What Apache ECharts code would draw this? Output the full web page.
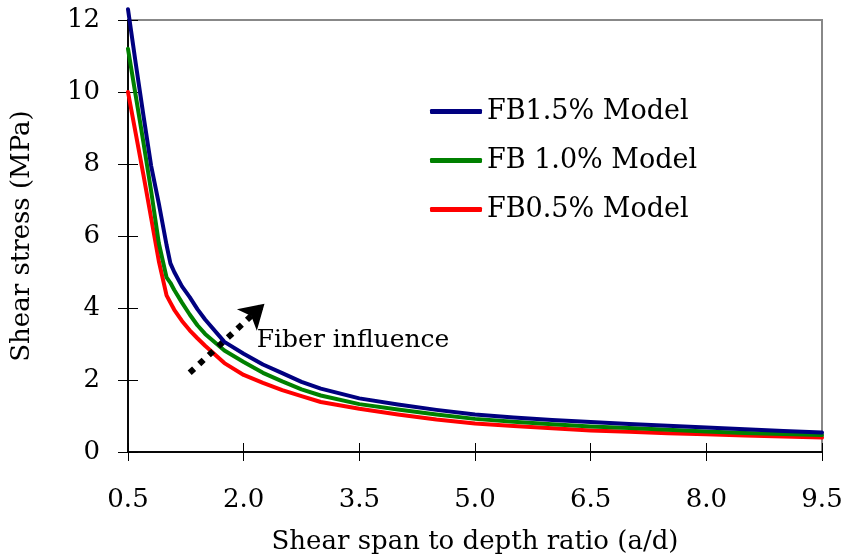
<!DOCTYPE html>
<html><head><meta charset="utf-8">
<script src="https://cdn.jsdelivr.net/npm/echarts@6/dist/echarts.min.js"></script>
<style>html,body{margin:0;padding:0;background:#fff}#c{width:841px;height:557px}</style>
</head><body><div id="c"></div>
<script>
const ratio = [0.5,0.6,0.7,0.8,0.9,1.0,1.05,1.1,1.2,1.3,1.4,1.5,1.75,2.0,2.25,2.5,2.75,3.0,3.5,4.0,4.5,5.0,5.5,6.0,6.5,7.0,7.5,8.0,8.5,9.0,9.5];
const fb15 = [12.3,10.8,9.35,7.95,6.9,5.75,5.24,5.0,4.6,4.3,3.97,3.68,3.06,2.73,2.43,2.19,1.95,1.76,1.49,1.32,1.17,1.04,0.96,0.89,0.83,0.78,0.73,0.68,0.63,0.58,0.54];
const fb10 = [11.2,9.9,8.6,7.25,5.8,4.85,4.7,4.5,4.15,3.82,3.52,3.28,2.82,2.5,2.2,1.96,1.74,1.57,1.33,1.18,1.04,0.92,0.84,0.77,0.71,0.67,0.62,0.57,0.53,0.50,0.47];
const fb05 = [10.0,8.85,7.7,6.5,5.3,4.35,4.15,3.95,3.64,3.38,3.16,2.95,2.47,2.14,1.92,1.72,1.55,1.39,1.2,1.04,0.9,0.79,0.72,0.66,0.60,0.56,0.52,0.49,0.46,0.43,0.40];
const names = ['FB1.5% Model','FB 1.0% Model','FB0.5% Model'];
const colors = ['#000080','#008000','#ff0000'];
const xTicks = {min:0.5,max:9.5,interval:1.5};
const yTicks = {min:0,max:12,interval:2};
const arrowFrom = [1.3,2.2], arrowTo = [2.27,4.12];
const noteAt = [2.17,3.1], noteText = 'Fiber influence';

const font = 'DejaVu Serif';
const pair = a => ratio.map((x,i)=>[x,a[i]]);
const chart = echarts.init(document.getElementById('c'));
const baseX = {type:'value',min:xTicks.min,max:xTicks.max,interval:xTicks.interval,position:'bottom',
  axisLine:{show:true,lineStyle:{color:'#000',width:1.5}},splitLine:{show:false}};
const baseY = {type:'value',min:yTicks.min,max:yTicks.max,interval:yTicks.interval,position:'left',
  axisLine:{show:true,lineStyle:{color:'#000',width:1.5}},splitLine:{show:false}};
chart.setOption({
  animation:false,
  backgroundColor:'#fff',
  grid:{left:128,right:19,top:20,bottom:105,containLabel:false,outerBoundsMode:'none',show:true,borderColor:'#888',borderWidth:2},
  legend:{orient:'vertical',left:425,top:93,itemWidth:52,itemHeight:5,itemGap:22,icon:'roundRect',
    textStyle:{fontFamily:font,fontSize:27,color:'#000'},data:names},
  xAxis:[
    Object.assign({},baseX,{name:'Shear span to depth ratio (a/d)',nameLocation:'middle',nameGap:77,
      nameTextStyle:{fontFamily:font,fontSize:26,color:'#000'},
      axisTick:{show:true,inside:true,length:9,lineStyle:{color:'#000',width:1}},
      axisLabel:{margin:35,fontFamily:font,fontSize:26,color:'#000',formatter:v=>v.toFixed(1)}}),
    Object.assign({},baseX,{axisTick:{show:true,inside:false,length:9,lineStyle:{color:'#000',width:1}},axisLabel:{show:false}})
  ],
  yAxis:[
    Object.assign({},baseY,{name:'Shear stress (MPa)',nameLocation:'middle',nameGap:93,nameRotate:90,
      nameTextStyle:{fontFamily:font,fontSize:26,color:'#000'},
      axisTick:{show:true,inside:true,length:10,lineStyle:{color:'#000',width:1}},
      axisLabel:{margin:28,fontFamily:font,fontSize:26,color:'#000'}}),
    Object.assign({},baseY,{axisTick:{show:true,inside:false,length:10,lineStyle:{color:'#000',width:1}},axisLabel:{show:false}})
  ],
  series:[fb15,fb10,fb05].map((d,i)=>({
    name:names[i],type:'line',data:pair(d),symbol:'none',clip:false,color:colors[i],
    lineStyle:{width:4,color:colors[i],join:'round',cap:'round'},
    z:5-i,
    ...(i===0?{
      markLine:{silent:true,symbol:['none','triangle'],symbolSize:[20,22],
        lineStyle:{type:[6,7],width:6,color:'#000',cap:'butt'},label:{show:false},
        data:[[{coord:arrowFrom,symbol:'none'},{coord:arrowTo,symbol:'arrow',symbolSize:[22,24]}]]},
      markPoint:{silent:true,symbol:'circle',symbolSize:0,
        data:[{coord:noteAt,label:{show:true,position:'right',distance:0,formatter:noteText,
          fontFamily:font,fontSize:25,color:'#000'}}]}
    }:{})
  }))
});
</script></body></html>
